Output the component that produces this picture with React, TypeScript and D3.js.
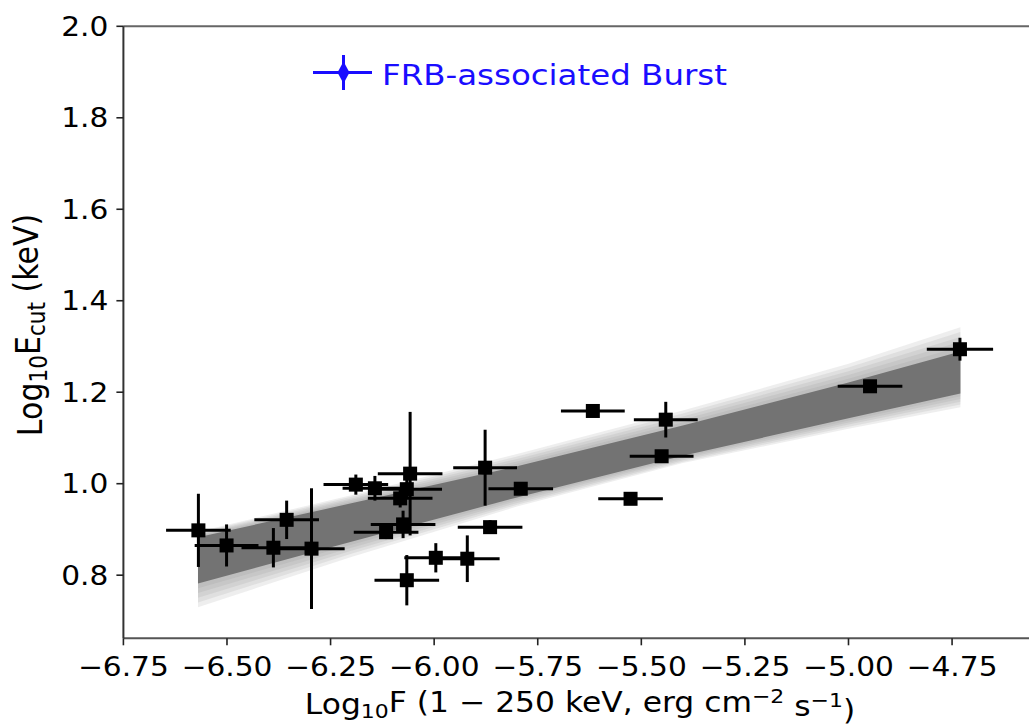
import React from "react";
import * as d3 from "d3";

// burst sample: log10 flux (1-250 keV) vs log10 Ecut
const fluxLog = [-6.569, -6.501, -6.356, -6.388, -6.296, -6.189, -6.143, -6.058, -6.066, -6.082, -6.075, -6.116, -6.066, -5.996, -5.92, -5.877, -5.791, -5.865, -5.526, -5.617, -5.441, -5.451, -4.948, -4.731];
const fluxErr = [0.078, 0.077, 0.078, 0.077, 0.08, 0.078, 0.078, 0.078, 0.085, 0.078, 0.078, 0.078, 0.078, 0.076, 0.078, 0.077, 0.078, 0.078, 0.078, 0.077, 0.077, 0.077, 0.078, 0.08];
const ecutLog = [0.898, 0.865, 0.921, 0.86, 0.858, 0.998, 0.99, 1.022, 0.988, 0.968, 0.911, 0.894, 0.789, 0.838, 0.836, 1.035, 0.989, 0.905, 0.967, 1.159, 1.14, 1.06, 1.213, 1.294];
const ecutErr = [0.08, 0.046, 0.042, 0.043, 0.132, 0.022, 0.027, 0.135, 0.02, 0.02, 0.03, 0.015, 0.055, 0.032, 0.051, 0.083, 0.012, 0.015, 0.012, 0.01, 0.039, 0.012, 0.008, 0.025];

// fit band
const bandX = [-6.57, -6.2, -5.8, -5.4, -5.0, -4.73];
const bandCoreLow = [0.782, 0.873, 0.97, 1.061, 1.143, 1.197];
const bandCoreHigh = [0.883, 0.957, 1.038, 1.127, 1.221, 1.289];
const bandOuterLow = [0.73, 0.84, 0.95, 1.045, 1.12, 1.167];
const bandOuterHigh = [0.895, 0.975, 1.065, 1.16, 1.262, 1.342];

const xTicks = [-6.75, -6.5, -6.25, -6.0, -5.75, -5.5, -5.25, -5.0, -4.75];
const yTicks = [0.8, 1.0, 1.2, 1.4, 1.6, 1.8, 2.0];

const W = 1029;
const H = 726;
const FONT = "'DejaVu Sans', sans-serif";
const SX = 1.12; // text is a bit wide in the reference

const x = d3.scaleLinear().domain([-6.75, -4.546]).range([123.4, 1036.6]);
const y = d3.scaleLinear().domain([0.662, 2.0]).range([638.3, 26.3]);

const Txt = ({ tx, ty, size, anchor = "start", fill = "#000", children }: any) => (
  <text
    transform={`translate(${tx},${ty}) scale(${SX},1)`}
    fontFamily={FONT}
    fontSize={size}
    textAnchor={anchor}
    fill={fill}
  >
    {children}
  </text>
);

export default function App() {
  const layers = [0, 0.2, 0.4, 0.6, 0.8];
  const area = (t: number) =>
    d3
      .area<number>()
      .x((_, i) => x(bandX[i]))
      .y0((_, i) => y(bandOuterLow[i] + (bandCoreLow[i] - bandOuterLow[i]) * t))
      .y1((_, i) => y(bandOuterHigh[i] + (bandCoreHigh[i] - bandOuterHigh[i]) * t))(bandX.map((_, i) => i));
  const core = d3
    .area<number>()
    .x((_, i) => x(bandX[i]))
    .y0((_, i) => y(bandCoreLow[i]))
    .y1((_, i) => y(bandCoreHigh[i]))(bandX.map((_, i) => i));

  const [x0, x1] = x.range();
  const [yb, yt] = y.range();
  const ms = 14;

  return (
    <svg width={W} height={H} style={{ position: "absolute", left: 0, top: 0, background: "#fff" }}>
      {/* band */}
      {layers.map((t) => (
        <path key={t} d={area(t) || ""} fill="#8a8a8a" fillOpacity={0.14} />
      ))}
      <path d={core || ""} fill="#737373" />

      {/* error bars */}
      <g stroke="#000" strokeWidth={3}>
        {fluxLog.map((f, i) => (
          <g key={i}>
            <line x1={x(f - fluxErr[i])} x2={x(f + fluxErr[i])} y1={y(ecutLog[i])} y2={y(ecutLog[i])} />
            <line x1={x(f)} x2={x(f)} y1={y(ecutLog[i] - ecutErr[i])} y2={y(ecutLog[i] + ecutErr[i])} />
          </g>
        ))}
      </g>
      {fluxLog.map((f, i) => (
        <rect key={i} x={x(f) - ms / 2} y={y(ecutLog[i]) - ms / 2} width={ms} height={ms} fill="#000" />
      ))}

      {/* spines */}
      <line x1={x0} x2={x1} y1={yt} y2={yt} stroke="#666" strokeWidth={2} />
      <line x1={x0} x2={x1} y1={yb} y2={yb} stroke="#555" strokeWidth={2} />
      <line x1={x0} x2={x0} y1={yt} y2={yb} stroke="#333" strokeWidth={2} />
      <line x1={x1} x2={x1} y1={yt} y2={yb} stroke="#333" strokeWidth={2} />

      {/* ticks */}
      {xTicks.map((t) => (
        <g key={t}>
          <line x1={x(t)} x2={x(t)} y1={yb} y2={yb + 7} stroke="#222" strokeWidth={1.6} />
          <Txt tx={x(t)} ty={yb + 38} size={26.5} anchor="middle">
            {d3.format(".2f")(t)}
          </Txt>
        </g>
      ))}
      {yTicks.map((t) => (
        <g key={t}>
          <line x1={x0 - 7} x2={x0} y1={y(t)} y2={y(t)} stroke="#222" strokeWidth={1.6} />
          <Txt tx={x0 - 15} ty={y(t) + 9.5} size={26.5} anchor="end">
            {d3.format(".1f")(t)}
          </Txt>
        </g>
      ))}

      {/* axis labels */}
      <Txt tx={580} ty={714} size={28} anchor="middle">
        Log<tspan fontSize="70%" dy="0.22em">10</tspan>
        <tspan dy="-0.22em">F (1 − 250 keV, erg cm</tspan>
        <tspan fontSize="70%" dy="-0.45em">−2</tspan>
        <tspan dy="0.45em"> s</tspan>
        <tspan fontSize="70%" dy="-0.45em">−1</tspan>
        <tspan dy="0.45em">)</tspan>
      </Txt>
      <text
        transform={`translate(42,325) rotate(-90) scale(1,${SX})`}
        fontFamily={FONT}
        fontSize={30}
        textAnchor="middle"
      >
        Log<tspan fontSize="72%" dy="0.22em">10</tspan>
        <tspan dy="-0.22em">E</tspan>
        <tspan fontSize="72%" dy="0.22em">cut</tspan>
        <tspan dy="-0.22em"> (keV)</tspan>
      </text>

      {/* legend */}
      <g stroke="#1a0dff" strokeWidth={3}>
        <line x1={313} x2={372} y1={72.5} y2={72.5} />
        <line x1={343.5} x2={343.5} y1={55} y2={90} />
      </g>
      <path d="M343.5,61.5 L349.5,72.5 L343.5,83.5 L337.5,72.5 Z" fill="#1a0dff" />
      <Txt tx={382} ty={85} size={29} fill="#1a0dff">
        FRB-associated Burst
      </Txt>
    </svg>
  );
}
